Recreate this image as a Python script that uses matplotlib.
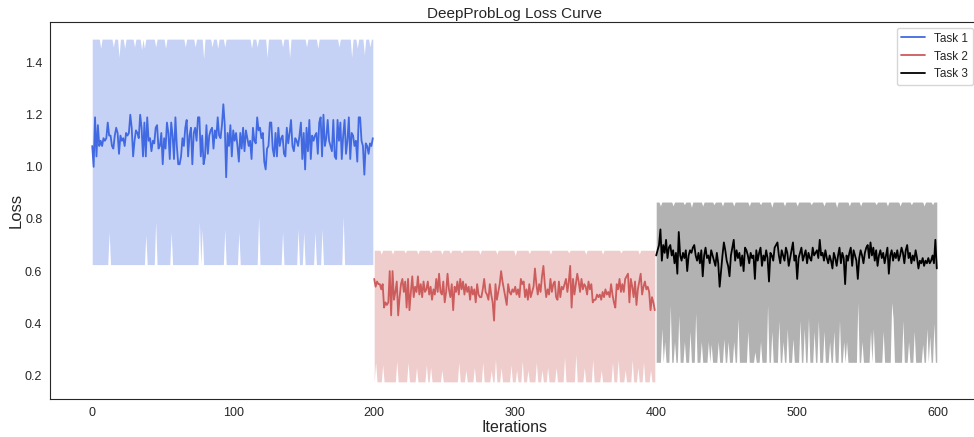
import numpy as np
import matplotlib.pyplot as plt
import seaborn as sns

# mean loss per iteration
task1_loss = [
    1.08, 1.00, 1.19, 1.04, 1.16, 1.08, 1.10, 1.08, 1.11, 1.10,
    1.11, 1.17, 1.12, 1.12, 1.08, 1.07, 1.12, 1.15, 1.13, 1.05,
    1.12, 1.10, 1.11, 1.08, 1.13, 1.12, 1.13, 1.20, 1.15, 1.04,
    1.10, 1.14, 1.13, 1.11, 1.20, 1.15, 1.04, 1.17, 1.04, 1.19,
    1.10, 1.11, 1.06, 1.10, 1.09, 1.15, 1.16, 1.07, 1.08, 1.13,
    1.01, 1.11, 1.07, 1.17, 1.13, 1.03, 1.17, 1.12, 1.03, 1.19,
    1.08, 1.01, 1.01, 1.04, 1.11, 1.08, 1.15, 1.18, 1.04, 1.12,
    1.15, 1.01, 1.13, 1.15, 1.10, 1.19, 1.19, 1.04, 1.12, 1.01,
    1.04, 1.16, 1.05, 1.12, 1.14, 1.15, 1.07, 1.14, 1.11, 1.19,
    1.12, 1.11, 1.16, 1.24, 1.16, 0.96, 1.13, 1.08, 1.16, 1.04,
    1.14, 1.10, 1.13, 1.08, 1.02, 1.13, 1.07, 1.15, 1.06, 1.14,
    1.11, 1.08, 1.10, 1.03, 1.15, 1.10, 1.09, 1.19, 1.14, 1.15,
    1.11, 1.13, 1.02, 0.99, 1.07, 1.08, 1.17, 1.17, 1.07, 1.04,
    1.13, 1.04, 1.15, 1.08, 1.11, 1.12, 1.05, 1.04, 1.15, 1.09,
    1.13, 1.18, 1.08, 1.06, 1.11, 1.10, 1.08, 1.12, 1.17, 1.03,
    1.13, 0.99, 1.15, 1.06, 1.18, 1.03, 1.12, 1.10, 1.12, 1.13,
    1.05, 1.17, 1.19, 1.04, 1.20, 1.08, 1.11, 1.18, 1.10, 1.08,
    1.06, 1.18, 1.04, 1.03, 1.18, 1.10, 1.17, 1.03, 1.12, 1.18,
    1.05, 1.10, 1.19, 1.03, 1.13, 1.12, 1.08, 1.10, 1.02, 1.19,
    1.19, 1.10, 1.08, 0.97, 1.09, 1.08, 1.05, 1.09, 1.08, 1.11,
]
task2_loss = [
    0.57, 0.54, 0.56, 0.55, 0.55, 0.53, 0.55, 0.46, 0.48, 0.47,
    0.48, 0.60, 0.43, 0.60, 0.49, 0.52, 0.56, 0.43, 0.50, 0.55,
    0.57, 0.52, 0.56, 0.46, 0.57, 0.45, 0.52, 0.58, 0.50, 0.54,
    0.52, 0.58, 0.51, 0.55, 0.50, 0.56, 0.52, 0.53, 0.56, 0.51,
    0.54, 0.49, 0.53, 0.51, 0.57, 0.52, 0.59, 0.52, 0.51, 0.56,
    0.48, 0.52, 0.59, 0.53, 0.50, 0.55, 0.45, 0.54, 0.52, 0.56,
    0.51, 0.57, 0.53, 0.56, 0.51, 0.55, 0.52, 0.54, 0.49, 0.54,
    0.51, 0.53, 0.48, 0.55, 0.51, 0.50, 0.50, 0.53, 0.57, 0.52,
    0.51, 0.49, 0.55, 0.51, 0.48, 0.41, 0.55, 0.49, 0.52, 0.55,
    0.60, 0.56, 0.53, 0.50, 0.47, 0.55, 0.52, 0.51, 0.53, 0.52,
    0.54, 0.51, 0.53, 0.50, 0.57, 0.55, 0.56, 0.50, 0.53, 0.49,
    0.55, 0.50, 0.52, 0.54, 0.61, 0.55, 0.51, 0.55, 0.52, 0.58,
    0.62, 0.55, 0.50, 0.53, 0.51, 0.57, 0.52, 0.55, 0.56, 0.50,
    0.49, 0.56, 0.50, 0.54, 0.53, 0.55, 0.57, 0.52, 0.56, 0.62,
    0.46, 0.57, 0.51, 0.55, 0.59, 0.56, 0.52, 0.57, 0.53, 0.55,
    0.54, 0.51, 0.56, 0.53, 0.55, 0.48, 0.49, 0.49, 0.51, 0.50,
    0.51, 0.49, 0.52, 0.50, 0.53, 0.51, 0.52, 0.50, 0.55, 0.51,
    0.48, 0.46, 0.55, 0.53, 0.57, 0.52, 0.55, 0.52, 0.57, 0.58,
    0.59, 0.48, 0.57, 0.54, 0.50, 0.56, 0.47, 0.53, 0.56, 0.59,
    0.51, 0.54, 0.56, 0.53, 0.54, 0.52, 0.45, 0.50, 0.48, 0.45,
]
task3_loss = [
    0.66, 0.68, 0.70, 0.76, 0.64, 0.70, 0.67, 0.72, 0.65, 0.69,
    0.70, 0.66, 0.68, 0.63, 0.67, 0.59, 0.75, 0.66, 0.64, 0.67,
    0.65, 0.68, 0.60, 0.66, 0.68, 0.67, 0.69, 0.70, 0.66, 0.64,
    0.67, 0.63, 0.68, 0.58, 0.66, 0.69, 0.65, 0.66, 0.63, 0.68,
    0.66, 0.64, 0.62, 0.67, 0.63, 0.54, 0.60, 0.66, 0.71, 0.68,
    0.64, 0.62, 0.58, 0.66, 0.69, 0.72, 0.64, 0.68, 0.65, 0.67,
    0.62, 0.66, 0.60, 0.69, 0.68, 0.66, 0.63, 0.67, 0.65, 0.66,
    0.57, 0.68, 0.64, 0.67, 0.69, 0.62, 0.66, 0.64, 0.68, 0.65,
    0.56, 0.67, 0.66, 0.64, 0.69, 0.70, 0.71, 0.66, 0.63, 0.68,
    0.66, 0.64, 0.69, 0.67, 0.62, 0.65, 0.68, 0.71, 0.64, 0.66,
    0.57, 0.65, 0.67, 0.69, 0.64, 0.66, 0.68, 0.63, 0.67, 0.65,
    0.64, 0.69, 0.66, 0.67, 0.68, 0.65, 0.72, 0.66, 0.67, 0.64,
    0.68, 0.65, 0.63, 0.66, 0.64, 0.61, 0.67, 0.65, 0.62, 0.66,
    0.69, 0.63, 0.67, 0.65, 0.55, 0.66, 0.64, 0.67, 0.69, 0.62,
    0.68, 0.66, 0.64, 0.57, 0.65, 0.68, 0.66, 0.63, 0.67, 0.69,
    0.70, 0.65, 0.71, 0.66, 0.69, 0.64, 0.68, 0.62, 0.66, 0.68,
    0.65, 0.67, 0.63, 0.66, 0.69, 0.59, 0.66, 0.68, 0.64, 0.67,
    0.65, 0.68, 0.64, 0.66, 0.69, 0.67, 0.63, 0.68, 0.70, 0.65,
    0.67, 0.63, 0.66, 0.64, 0.68, 0.65, 0.61, 0.64, 0.63, 0.65,
    0.62, 0.64, 0.63, 0.65, 0.63, 0.64, 0.66, 0.63, 0.72, 0.61,
]

# band edges: flat level plus the visible dips / spikes {iteration: value}
band1_top, band1_bottom = 1.49, 0.625
band1_top_dips = {6: 1.455, 15: 1.46, 19: 1.42, 23: 1.455, 30: 1.46, 35: 1.45,
                  37: 1.455, 45: 1.46, 52: 1.455, 66: 1.46, 73: 1.46, 79: 1.415,
                  85: 1.46, 89: 1.455, 94: 1.46, 113: 1.455, 117: 1.46, 124: 1.42,
                  135: 1.46, 140: 1.42, 152: 1.46, 160: 1.455, 175: 1.46,
                  184: 1.42, 188: 1.455, 193: 1.43, 197: 1.46}
band1_bottom_spikes = {12: 0.75, 38: 0.74, 45: 0.79, 56: 0.75, 76: 0.79, 78: 0.76,
                       94: 0.76, 104: 0.75, 118: 0.81, 135: 0.75, 146: 0.76,
                       150: 0.75, 158: 0.75, 163: 0.76, 178: 0.81}

band2_top, band2_bottom = 0.68, 0.175
band2_top_dips = {205: 0.665, 213: 0.665, 222: 0.67, 231: 0.665, 240: 0.67,
                  248: 0.665, 254: 0.668, 262: 0.67, 275: 0.665, 287: 0.665,
                  300: 0.66, 310: 0.667, 325: 0.665, 338: 0.67, 350: 0.665,
                  362: 0.665, 375: 0.67, 388: 0.665}
band2_bottom_spikes = {201: 0.25, 206: 0.24, 216: 0.255, 224: 0.25, 230: 0.23,
                       237: 0.24, 240: 0.23, 248: 0.22, 260: 0.25, 265: 0.22,
                       271: 0.23, 277: 0.25, 283: 0.22, 286: 0.26, 290: 0.23,
                       297: 0.24, 301: 0.22, 305: 0.255, 309: 0.22, 315: 0.25,
                       319: 0.22, 323: 0.23, 329: 0.23, 335: 0.27, 343: 0.28,
                       349: 0.23, 355: 0.26, 361: 0.22, 369: 0.25, 373: 0.26,
                       378: 0.22, 383: 0.26, 387: 0.23, 391: 0.25, 396: 0.22}

band3_top, band3_bottom = 0.865, 0.25
band3_top_dips = {403: 0.85, 412: 0.85, 420: 0.855, 425: 0.845, 433: 0.85,
                  441: 0.855, 447: 0.85, 455: 0.85, 466: 0.85, 474: 0.855,
                  482: 0.845, 491: 0.85, 500: 0.85, 510: 0.855, 519: 0.85,
                  528: 0.845, 537: 0.85, 545: 0.85, 556: 0.855, 564: 0.85,
                  573: 0.85, 581: 0.855, 590: 0.85, 596: 0.855}
band3_bottom_spikes = {404: 0.38, 406: 0.33, 410: 0.47, 413: 0.33, 416: 0.43,
                       420: 0.33, 424: 0.37, 428: 0.44, 432: 0.33, 437: 0.33,
                       439: 0.32, 444: 0.33, 448: 0.34, 451: 0.33, 455: 0.33,
                       458: 0.42, 465: 0.37, 470: 0.29, 474: 0.33, 479: 0.47,
                       482: 0.37, 487: 0.41, 490: 0.33, 493: 0.38, 497: 0.34,
                       502: 0.41, 505: 0.38, 508: 0.42, 512: 0.37, 515: 0.41,
                       519: 0.37, 523: 0.33, 526: 0.37, 530: 0.41, 533: 0.33,
                       535: 0.33, 543: 0.48, 546: 0.33, 552: 0.37, 554: 0.38,
                       561: 0.37, 567: 0.48, 568: 0.42, 575: 0.41, 579: 0.33,
                       583: 0.37, 589: 0.32, 592: 0.38, 594: 0.35, 597: 0.40}

task_names = ["Task 1", "Task 2", "Task 3"]
task_colors = ["royalblue", "indianred", "black"]


def edge(x, level, changes):
    arr = np.full(len(x), level)
    for it, v in changes.items():
        arr[it - x[0]] = v
    return arr


sns.set_style("white")
plt.rcParams['font.family'] = ['Liberation Sans', 'DejaVu Sans']

fig = plt.figure(figsize=(9.74, 4.37), dpi=100)
ax = fig.add_axes([50 / 974, 38 / 437, 929 / 974, 377 / 437])

tasks = [
    (task1_loss, band1_top, band1_top_dips, band1_bottom, band1_bottom_spikes),
    (task2_loss, band2_top, band2_top_dips, band2_bottom, band2_bottom_spikes),
    (task3_loss, band3_top, band3_top_dips, band3_bottom, band3_bottom_spikes),
]
start = 0
for (loss, top, dips, bottom, spikes), name, c in zip(tasks, task_names, task_colors):
    x = np.arange(start, start + len(loss))
    ax.fill_between(x, edge(x, bottom, spikes), edge(x, top, dips),
                    color=c, alpha=0.3, linewidth=0)
    ax.plot(x, loss, color=c, linewidth=1.3, label=name)
    start += len(loss)

ax.set_title("DeepProbLog Loss Curve", fontsize=11, pad=3)
ax.set_xlabel("Iterations", fontsize=11.5, labelpad=1)
ax.set_ylabel("Loss", fontsize=12, labelpad=1)
ax.tick_params(labelsize=9, pad=2)
ax.legend(loc="upper right", fontsize=8.5)

fig.savefig("out.png", dpi=100)
